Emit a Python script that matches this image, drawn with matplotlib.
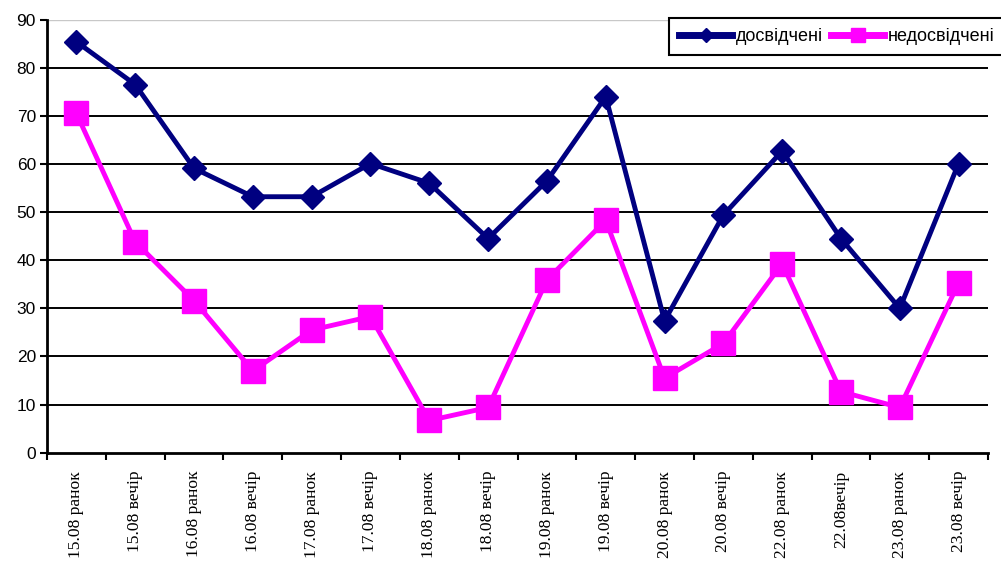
import numpy as np
import matplotlib
matplotlib.use("Agg")
import matplotlib.pyplot as plt
from matplotlib.ticker import FixedLocator

# Observation sessions and the two groups' scores
categories = [
    "15.08 ранок", "15.08 вечір", "16.08 ранок", "16.08 вечір",
    "17.08 ранок", "17.08 вечір", "18.08 ранок", "18.08 вечір",
    "19.08 ранок", "19.08 вечір", "20.08 ранок", "20.08 вечір",
    "22.08 ранок", "22.08вечір", "23.08 ранок", "23.08 вечір",
]
experienced = [85.4, 76.5, 59.1, 53.2, 53.2, 60.1, 56.0, 44.5,
               56.5, 74.0, 27.4, 49.4, 62.7, 44.5, 30.0, 60.1]
novice = [70.5, 43.8, 31.6, 17.0, 25.5, 28.3, 6.7, 9.4,
          35.9, 48.3, 15.5, 22.7, 39.3, 12.7, 9.4, 35.3]
y_ticks = list(range(0, 91, 10))

fig = plt.figure(figsize=(10.01, 5.61), dpi=100)
ax = fig.add_axes([0.047, 0.193, 0.94, 0.772])

x = np.arange(len(categories))

# horizontal gridlines (the top one is drawn light)
for v in y_ticks[1:-1]:
    ax.axhline(v, color="black", lw=1.4, zorder=1)
ax.axhline(y_ticks[-1], color="#c8c8c8", lw=1.0, zorder=1)

ax.plot(x, experienced, color="#000080", lw=3.5, marker="D", ms=12.5,
        mfc="#000080", mec="#000080", label="досвідчені", zorder=3)
ax.plot(x, novice, color="#ff00ff", lw=3.5, marker="s", ms=17,
        mfc="#ff00ff", mec="#ff00ff", label="недосвідчені", zorder=3)

ax.set_xlim(-0.5, len(categories) - 0.5)
ax.set_ylim(0, 90)

ax.set_yticks(y_ticks)
ax.tick_params(axis="y", direction="out", length=5, width=1.5,
               labelsize=12.5, pad=3)
for lbl in ax.get_yticklabels():
    lbl.set_family("Liberation Sans")

# labels centred in each category, tick marks on the boundaries
ax.set_xticks(x)
ax.set_xticklabels(categories, rotation=90, family="Liberation Serif",
                   fontsize=12.6, va="top", ha="center")
ax.xaxis.set_minor_locator(FixedLocator(np.arange(len(categories) + 1) - 0.5))
ax.tick_params(axis="x", which="major", length=0, pad=13)
ax.tick_params(axis="x", which="minor", direction="out", length=5, width=1.5)

for side in ("top", "right"):
    ax.spines[side].set_visible(False)
ax.spines["left"].set_linewidth(2)
ax.spines["bottom"].set_linewidth(2)

leg = ax.legend(
    loc="upper left",
    bbox_to_anchor=(669 / 1001, 1 - 18 / 561),
    bbox_transform=fig.transFigure,
    ncol=2,
    fancybox=False,
    framealpha=1,
    edgecolor="black",
    prop={"family": "Liberation Sans", "size": 13},
    handlelength=2.95,
    handletextpad=0.2,
    columnspacing=0.45,
    borderpad=0.55,
    borderaxespad=0,
    markerscale=0.6,
)
leg.get_frame().set_linewidth(1.5)
leg.set_zorder(5)
for line in leg.get_lines():
    line.set_linewidth(5)

fig.savefig("out.png", dpi=100)
